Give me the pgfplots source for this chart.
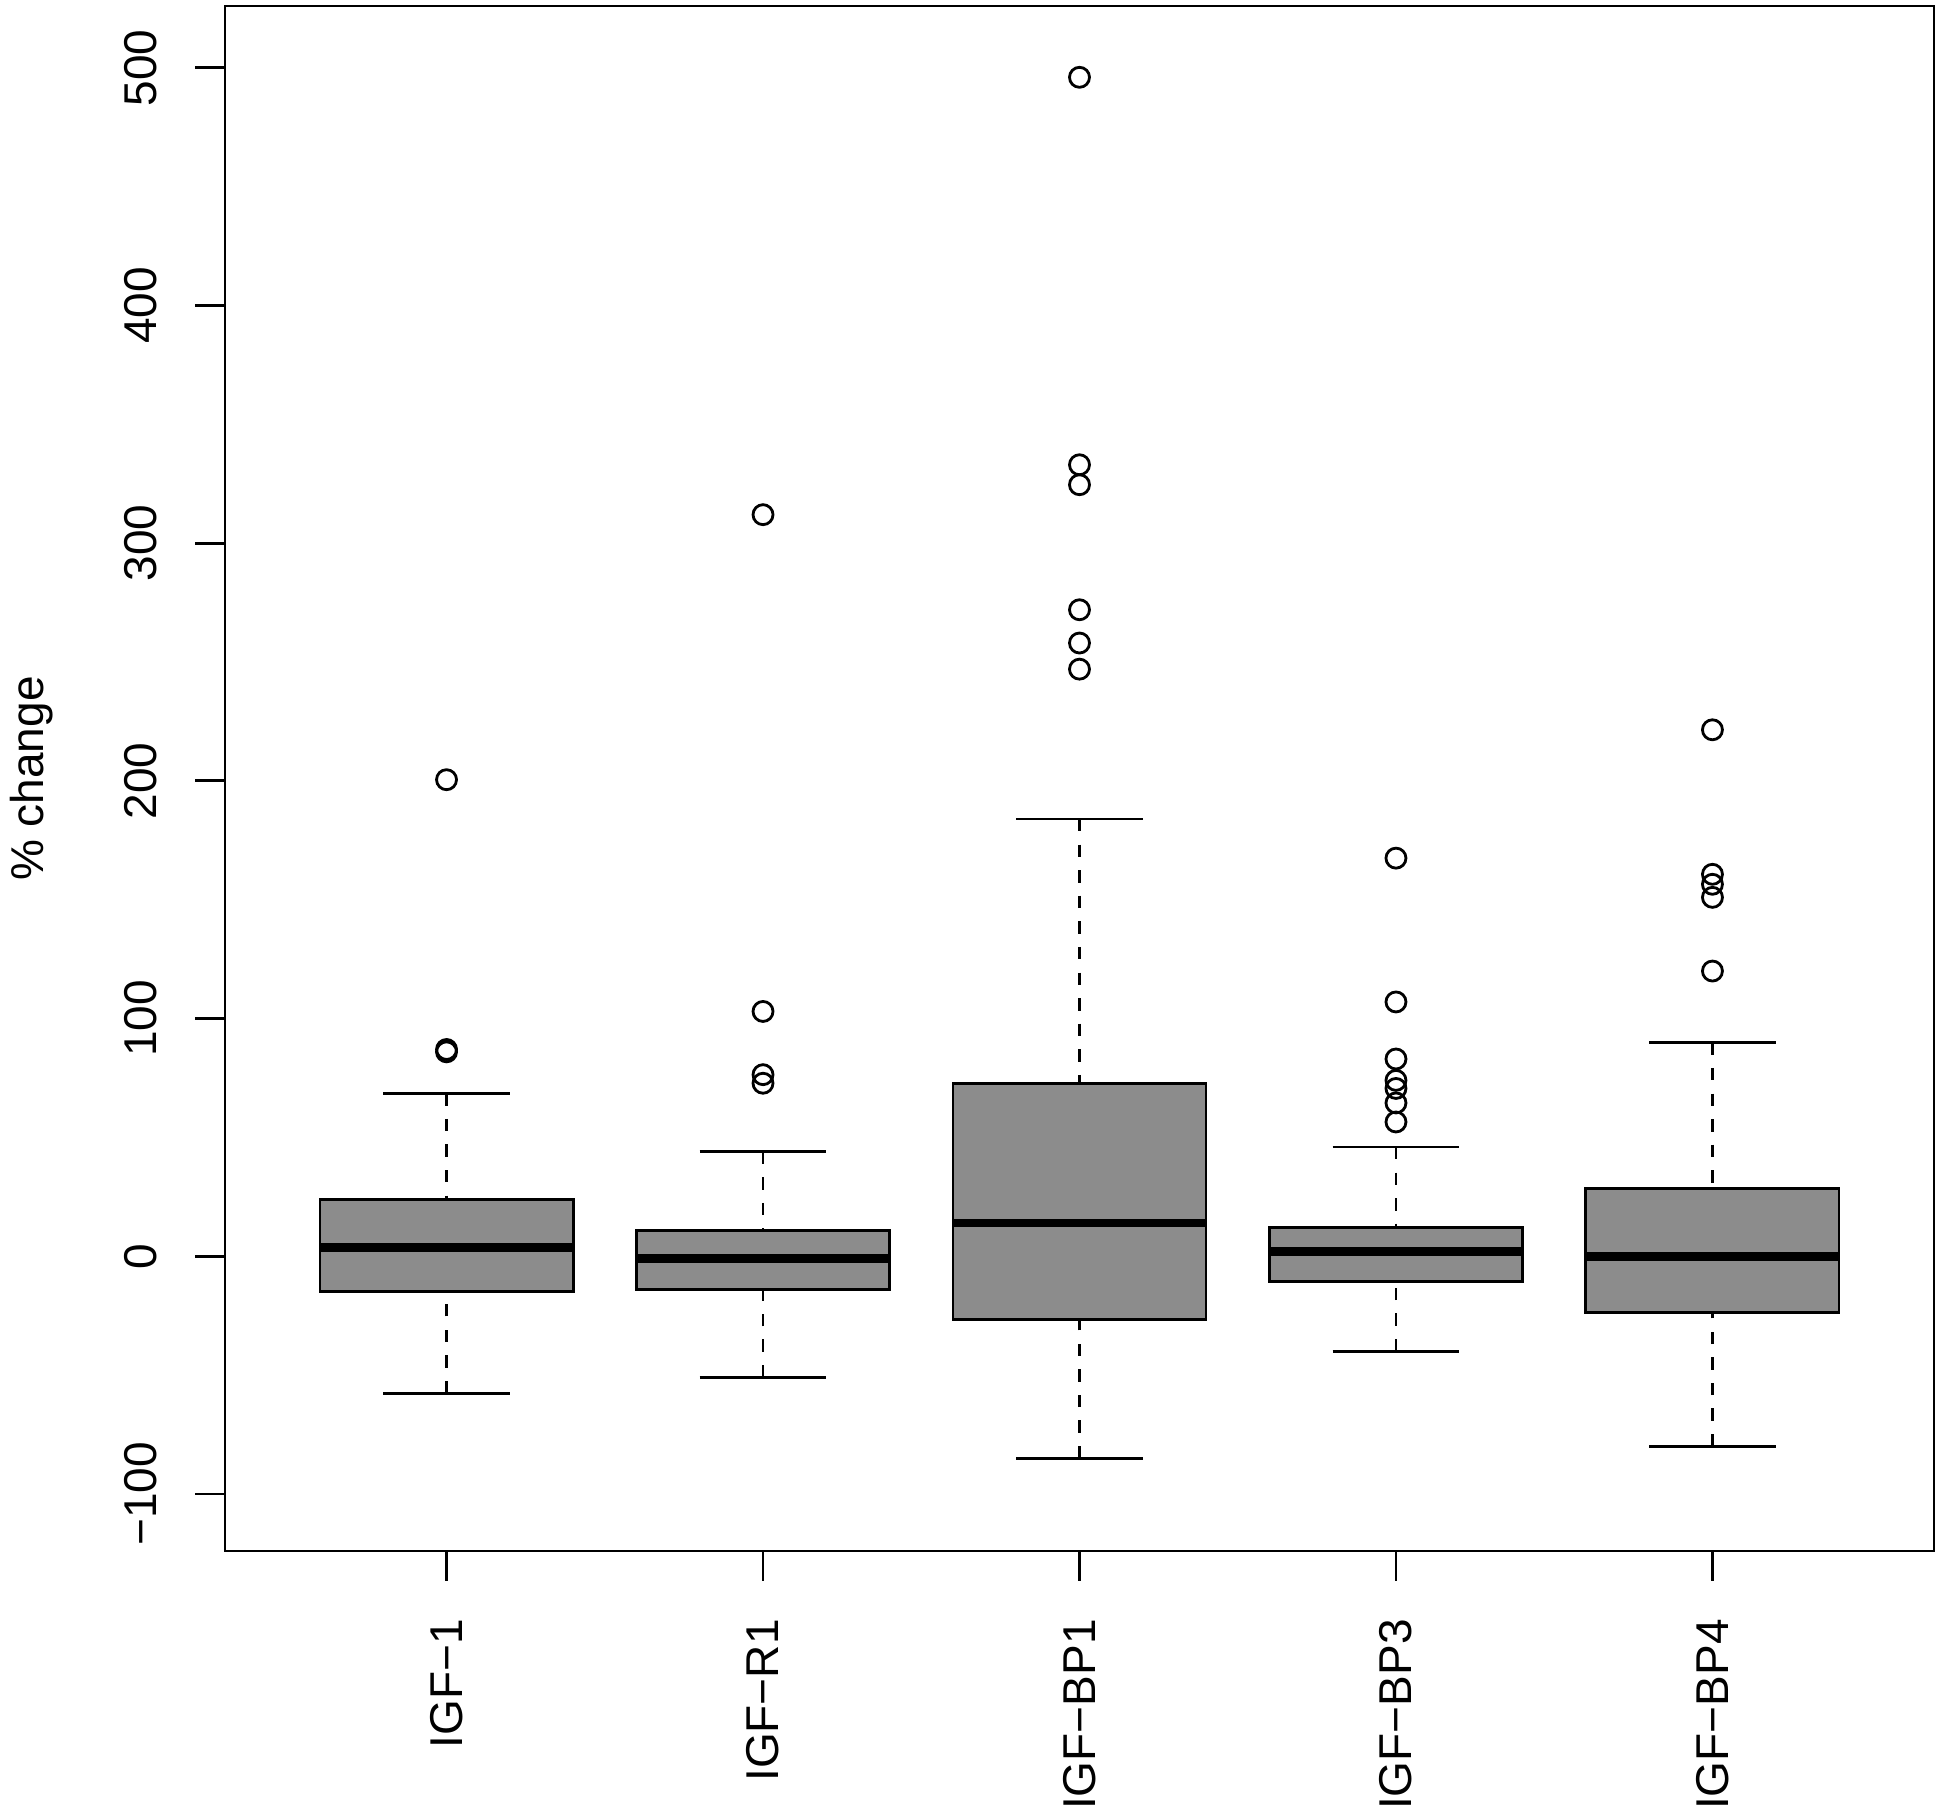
\documentclass[border=0pt]{standalone}
\usepackage{fontspec}
\setmainfont{Liberation Sans}
\usepackage{pgfplots}
\pgfplotsset{compat=1.18}

\definecolor{boxgray}{RGB}{140,140,140}

\begin{document}
\fontsize{11.5}{14}\selectfont
\begin{tikzpicture}
  \begin{axis}[
    at={(0,0)}, anchor=south west,
    scale only axis,
    width=427.25pt, height=386.25pt,
    xmin=0.3, xmax=5.7,
    ymin=-124, ymax=526,
    axis line style={line width=0.7pt},
    xtick={1,2,3,4,5},
    xticklabels={IGF−1, IGF−R1, IGF−BP1, IGF−BP3, IGF−BP4},
    ytick={-100,0,100,200,300,400,500},
    yticklabels={−100,0,100,200,300,400,500},
    xtick pos=left, ytick pos=left,
    tick align=outside,
    major tick length=7.4pt,
    tick style={line width=0.7pt, black},
    xticklabel style={rotate=90, anchor=east, inner sep=0pt},
    yticklabel style={rotate=90, anchor=south, inner sep=0pt},
    xticklabel shift=9.5pt,
    yticklabel shift=9.4pt,
    ylabel={\% change},
    ylabel style={at={(axis description cs:-0.1129,0.5)}, anchor=center},
    unbounded coords=jump,
  ]
    % boxes: lower quartile to upper quartile, width 0.8
    \addplot[draw=black, fill=boxgray, line width=0.7pt]
      coordinates {(0.6,-14.7) (1.4,-14.7) (1.4,24) (0.6,24)} -- cycle;
    \addplot[draw=black, fill=boxgray, line width=0.7pt]
      coordinates {(1.6,-14) (2.4,-14) (2.4,11) (1.6,11)} -- cycle;
    \addplot[draw=black, fill=boxgray, line width=0.7pt]
      coordinates {(2.6,-26.7) (3.4,-26.7) (3.4,72.8) (2.6,72.8)} -- cycle;
    \addplot[draw=black, fill=boxgray, line width=0.7pt]
      coordinates {(3.6,-10.5) (4.4,-10.5) (4.4,12) (3.6,12)} -- cycle;
    \addplot[draw=black, fill=boxgray, line width=0.7pt]
      coordinates {(4.6,-23.8) (5.4,-23.8) (5.4,28.5) (4.6,28.5)} -- cycle;
    % medians
    \addplot[black, line width=2.2pt] coordinates {
      (0.6,3.7) (1.4,3.7) (1,nan)
      (1.6,-1) (2.4,-1) (2,nan)
      (2.6,14) (3.4,14) (3,nan)
      (3.6,2) (4.4,2) (4,nan)
      (4.6,-0.2) (5.4,-0.2)};
    % whiskers (dashed)
    \addplot[black, line width=0.7pt, dash pattern=on 3.1pt off 3.3pt] coordinates {
      (1,68.6) (1,24) (1,nan) (1,-57.6) (1,-14.7) (1,nan)
      (2,44) (2,11) (2,nan) (2,-51) (2,-14) (2,nan)
      (3,184) (3,72.8) (3,nan) (3,-85) (3,-26.7) (3,nan)
      (4,46) (4,12) (4,nan) (4,-40) (4,-10.5) (4,nan)
      (5,90) (5,28.5) (5,nan) (5,-80) (5,-23.8)};
    % whisker caps
    \addplot[black, line width=0.7pt] coordinates {
      (0.8,68.6) (1.2,68.6) (1,nan) (0.8,-57.6) (1.2,-57.6) (1,nan)
      (1.8,44) (2.2,44) (2,nan) (1.8,-51) (2.2,-51) (2,nan)
      (2.8,184) (3.2,184) (3,nan) (2.8,-85) (3.2,-85) (3,nan)
      (3.8,46) (4.2,46) (4,nan) (3.8,-40) (4.2,-40) (4,nan)
      (4.8,90) (5.2,90) (5,nan) (4.8,-80) (5.2,-80)};
    % outliers
    \addplot[black, only marks, mark=o, mark size=2.5pt,
      mark options={solid, line width=0.7pt}] coordinates {
      (1,200.5) (1,87) (1,86)
      (2,312) (2,103) (2,76.4) (2,72.8)
      (3,496) (3,333) (3,324.6) (3,272) (3,258) (3,247)
      (4,167.5) (4,107) (4,83) (4,74) (4,70.6) (4,64.5) (4,56.5)
      (5,221.5) (5,160.7) (5,156.5) (5,151) (5,120)};
  \end{axis}
  % fixed page size, axis box sits at (0,0)
  \pgfresetboundingbox
  \useasboundingbox (-56.25pt,-64.75pt) rectangle (431.25pt,387.75pt);
\end{tikzpicture}
\end{document}
